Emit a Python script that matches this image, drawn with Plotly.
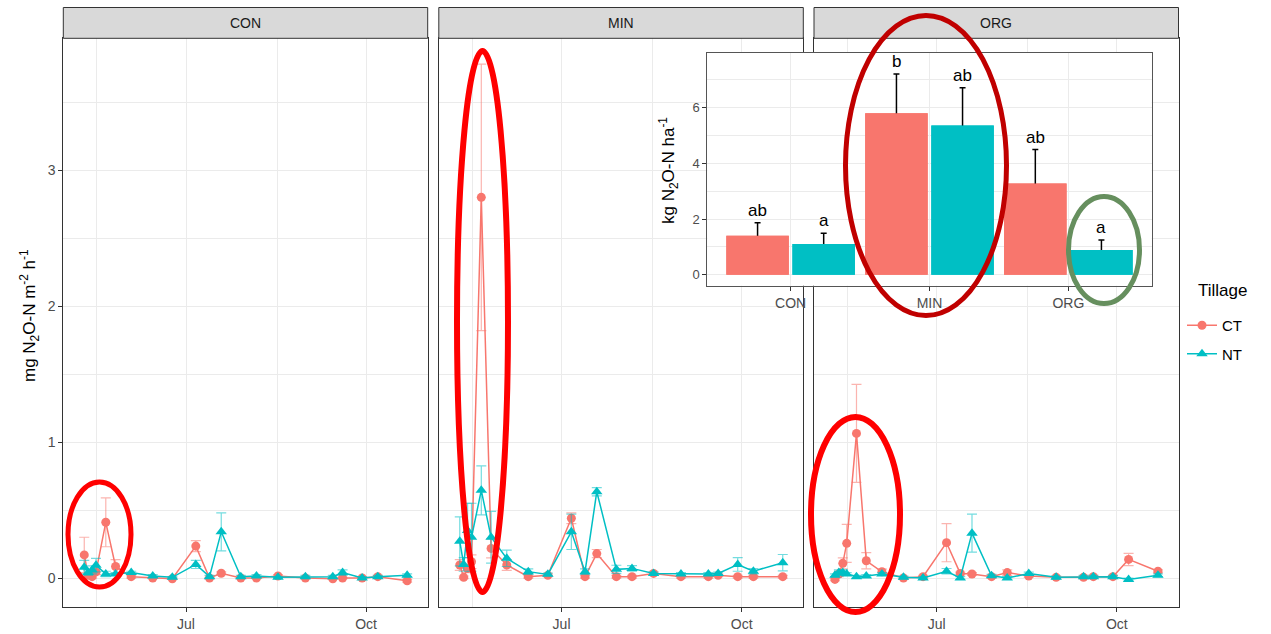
import plotly.graph_objects as go

W, H = 1271, 634
FONT = "Liberation Sans"

# ---- sampling dates and flux series (mg N2O-N m-2 h-1) ----
dates = ["2019-05-10", "2019-05-12", "2019-05-14", "2019-05-16", "2019-05-21", "2019-05-26",
         "2019-06-03", "2019-06-14", "2019-06-24", "2019-07-06", "2019-07-13", "2019-07-19",
         "2019-07-29", "2019-08-06", "2019-08-17", "2019-08-31", "2019-09-14", "2019-09-19",
         "2019-09-29", "2019-10-07", "2019-10-22"]

fertilizers = ["CON", "MIN", "ORG"]
tillage = ["CT", "NT"]

con_ct = [0.17, 0.02, 0.01, 0.045, 0.41, 0.085, 0.01, 0.0, -0.005, 0.235, 0.0, 0.035,
          0.0, 0.0, 0.015, 0.0, -0.005, 0.0, 0.0, 0.01, -0.02]
con_ct_se = [0.13, 0.01, 0.01, 0.02, 0.18, 0.05, 0.01, 0.005, 0.005, 0.04, 0.005, 0.01,
             0.005, 0.005, 0.01, 0.005, 0.005, 0.005, 0.005, 0.01, 0.01]
con_nt = [0.08, 0.04, 0.06, 0.095, 0.03, 0.03, 0.04, 0.015, 0.005, 0.1, 0.01, 0.34,
          0.01, 0.015, 0.005, 0.01, 0.01, 0.04, 0.0, 0.01, 0.02]
con_nt_se = [0.05, 0.02, 0.03, 0.05, 0.02, 0.01, 0.01, 0.01, 0.005, 0.03, 0.01, 0.14,
             0.01, 0.01, 0.005, 0.01, 0.01, 0.02, 0.01, 0.01, 0.01]

min_ct = [0.096, 0.005, 0.07, 0.12, 2.80, 0.218, 0.096, 0.01, 0.02, 0.44, 0.01, 0.18,
          0.01, 0.01, 0.034, 0.01, 0.01, 0.02, 0.01, 0.01, 0.01]
min_ct_se = [0.04, 0.01, 0.03, 0.05, 0.98, 0.07, 0.04, 0.01, 0.01, 0.04, 0.01, 0.03,
             0.01, 0.01, 0.01, 0.01, 0.01, 0.01, 0.01, 0.01, 0.01]
min_nt = [0.27, 0.10, 0.35, 0.30, 0.645, 0.30, 0.145, 0.047, 0.027, 0.34, 0.047, 0.635,
          0.064, 0.071, 0.034, 0.03, 0.03, 0.034, 0.10, 0.05, 0.113]
min_nt_se = [0.18, 0.05, 0.20, 0.25, 0.18, 0.19, 0.06, 0.02, 0.01, 0.13, 0.02, 0.03,
             0.03, 0.02, 0.01, 0.01, 0.01, 0.01, 0.05, 0.02, 0.06]

org_ct = [-0.01, 0.03, 0.108, 0.255, 1.064, 0.127, 0.046, 0.0, 0.01, 0.26, 0.034, 0.03,
          0.01, 0.04, 0.015, 0.005, 0.005, 0.01, 0.01, 0.137, 0.05]
org_ct_se = [0.01, 0.02, 0.04, 0.14, 0.36, 0.06, 0.02, 0.01, 0.01, 0.14, 0.01, 0.01,
             0.01, 0.02, 0.01, 0.01, 0.01, 0.01, 0.01, 0.045, 0.01]
org_nt = [0.02, 0.04, 0.04, 0.03, 0.01, 0.015, 0.03, 0.005, 0.0, 0.05, 0.0, 0.33,
          0.017, 0.0, 0.034, 0.005, 0.01, 0.01, 0.01, -0.01, 0.02]
org_nt_se = [0.01, 0.02, 0.02, 0.01, 0.01, 0.01, 0.01, 0.01, 0.01, 0.02, 0.01, 0.14,
             0.01, 0.01, 0.01, 0.01, 0.01, 0.01, 0.01, 0.01, 0.01]

# ---- cumulative emissions (kg N2O-N ha-1) ----
total_ct = [1.4, 5.8, 3.28]
total_ct_err = [0.47, 1.41, 1.22]
total_nt = [1.1, 5.36, 0.89]
total_nt_err = [0.39, 1.36, 0.36]
letters_ct = ["ab", "b", "ab"]
letters_nt = ["a", "ab", "a"]

COL = {"CT": "#F8766D", "NT": "#00BFC4"}
ERRCOL = {"CT": "rgba(248,118,109,0.55)", "NT": "rgba(0,191,196,0.55)"}
SYMBOL = {"CT": "circle", "NT": "triangle-up"}

series = {
    "CON": {"CT": (con_ct, con_ct_se), "NT": (con_nt, con_nt_se)},
    "MIN": {"CT": (min_ct, min_ct_se), "NT": (min_nt, min_nt_se)},
    "ORG": {"CT": (org_ct, org_ct_se), "NT": (org_nt, org_nt_se)},
}


def px(x):
    return x / W


def py(y):
    return 1 - y / H


# panel geometry (pixels)
panel_x = [(63.3, 427.7), (438.8, 803.3), (814.0, 1178.5)]
panel_top, panel_bottom = 38.3, 607.0
strip_top = 7.5

fig = go.Figure()

for i, fert in enumerate(fertilizers):
    sfx = "" if i == 0 else str(i + 1)
    for till in tillage:
        vals, se = series[fert][till]
        fig.add_trace(go.Scatter(
            x=dates, y=vals, mode="lines+markers", name=till,
            legendgroup=till, showlegend=(i == 0),
            line=dict(color=COL[till], width=1.5),
            marker=dict(color=COL[till], size=9 if till == "CT" else 10, symbol=SYMBOL[till]),
            error_y=dict(type="data", array=se, color=ERRCOL[till], thickness=1.2, width=5),
            xaxis="x" + sfx, yaxis="y" + sfx,
        ))

# inset bar chart: bars carrying the error bars, then the same bars again on top
# so that only the upper whisker stays visible
for till, vals, err in [("CT", total_ct, total_ct_err), ("NT", total_nt, total_nt_err)]:
    fig.add_trace(go.Bar(
        x=fertilizers, y=vals, name=till, showlegend=False, offsetgroup=till,
        marker=dict(color=COL[till], line=dict(width=0)),
        error_y=dict(type="data", array=err, color="black", thickness=1.5, width=3),
        xaxis="x4", yaxis="y4",
    ))
for till, vals in [("CT", total_ct), ("NT", total_nt)]:
    fig.add_trace(go.Bar(
        x=fertilizers, y=vals, name=till, showlegend=False, offsetgroup=till,
        marker=dict(color=COL[till], line=dict(width=0)),
        xaxis="x4", yaxis="y4", hoverinfo="skip",
    ))
for vals, err, letters, shift in [(total_ct, total_ct_err, letters_ct, -33),
                                  (total_nt, total_nt_err, letters_nt, 33)]:
    for f, v, e, t in zip(fertilizers, vals, err, letters):
        fig.add_annotation(x=f, y=v + e, xref="x4", yref="y4", text=t, showarrow=False,
                           xanchor="center", yanchor="bottom", xshift=shift, yshift=1,
                           font=dict(family=FONT, size=17, color="black"))

grid = "#EBEBEB"
tickfont = dict(family=FONT, size=14, color="#4D4D4D")
layout = dict(
    width=W, height=H,
    margin=dict(l=0, r=0, t=0, b=0),
    paper_bgcolor="white", plot_bgcolor="white",
    font=dict(family=FONT, color="black"),
    barmode="group", bargap=0.048, bargroupgap=0.055,
    legend=dict(
        x=px(1182), y=py(309), xanchor="left", yanchor="top",
        font=dict(family=FONT, size=15, color="black"),
        bgcolor="rgba(0,0,0,0)", itemwidth=30, tracegroupgap=6,
    ),
    showlegend=True,
)

for i in range(3):
    sfx = "" if i == 0 else str(i + 1)
    x0, x1 = panel_x[i]
    layout["xaxis" + sfx] = dict(
        domain=[px(x0), px(x1)], anchor="y" + sfx, type="date",
        range=["2019-04-29 07:00", "2019-11-01 12:00"],
        tickmode="array", tickvals=["2019-07-01", "2019-10-01"], ticktext=["Jul", "Oct"],
        ticks="outside", ticklen=4, tickcolor="#333333", tickfont=tickfont,
        showgrid=True, gridcolor=grid, gridwidth=1,
        minor=dict(showgrid=True, gridcolor=grid, gridwidth=0.6,
                   tickmode="array", tickvals=["2019-05-16 12:00", "2019-08-16 12:00"]),
        showline=True, mirror=True, linecolor="#333333", linewidth=1,
        zeroline=False, fixedrange=True,
    )
    layout["yaxis" + sfx] = dict(
        domain=[py(panel_bottom), py(panel_top)], anchor="x" + sfx,
        range=[-0.213, 3.97],
        tickmode="array", tickvals=[0, 1, 2, 3],
        showticklabels=(i == 0),
        ticks="outside" if i == 0 else "", ticklen=4, tickcolor="#333333", tickfont=tickfont,
        showgrid=True, gridcolor=grid, gridwidth=1,
        minor=dict(showgrid=True, gridcolor=grid, gridwidth=0.6,
                   tickmode="array", tickvals=[0.5, 1.5, 2.5, 3.5]),
        showline=True, mirror=True, linecolor="#333333", linewidth=1,
        zeroline=False, fixedrange=True,
    )

# inset axes
ix0, ix1, iy0, iy1 = 707.3, 1151.7, 52.7, 285.7
layout["xaxis4"] = dict(
    domain=[px(ix0), px(ix1)], anchor="y4", type="category",
    range=[-0.6, 2.6], ticks="outside", ticklen=4, tickcolor="#333333",
    tickfont=dict(family=FONT, size=14, color="#4D4D4D"),
    showgrid=True, gridcolor=grid, gridwidth=1,
    showline=True, mirror=True, linecolor="#555555", linewidth=1,
    zeroline=False, fixedrange=True,
)
layout["yaxis4"] = dict(
    domain=[py(iy1), py(iy0)], anchor="x4",
    range=[-0.395, 7.98], tickmode="array", tickvals=[0, 2, 4, 6],
    ticks="outside", ticklen=4, tickcolor="#333333",
    tickfont=dict(family=FONT, size=13, color="#4D4D4D"),
    showgrid=True, gridcolor=grid, gridwidth=1,
    minor=dict(showgrid=True, gridcolor=grid, gridwidth=0.6,
               tickmode="array", tickvals=[1, 3, 5, 7]),
    showline=True, mirror=True, linecolor="#555555", linewidth=1,
    zeroline=False, fixedrange=True,
)
fig.update_layout(**layout)

shapes = []
# white backing behind the inset (drawn in the inset subplot's lower layer)
iw, ih = ix1 - ix0, iy1 - iy0
shapes.append(dict(
    type="rect", xref="x4 domain", yref="y4 domain", layer="below",
    x0=(643 - ix0) / iw, x1=(1160 - ix0) / iw,
    y0=(iy1 - 319) / ih, y1=(iy1 - 43) / ih,
    fillcolor="white", line=dict(width=0),
))
# facet strips
for i, fert in enumerate(fertilizers):
    x0, x1 = panel_x[i]
    shapes.append(dict(
        type="rect", xref="paper", yref="paper", layer="above",
        x0=px(x0), x1=px(x1), y0=py(panel_top), y1=py(strip_top),
        fillcolor="#D9D9D9", line=dict(color="#333333", width=1),
    ))
    fig.add_annotation(x=px((x0 + x1) / 2), y=py((strip_top + panel_top) / 2),
                       xref="paper", yref="paper", text=fert, showarrow=False,
                       xanchor="center", yanchor="middle",
                       font=dict(family=FONT, size=14, color="#1A1A1A"))

# highlight ellipses
for (x0, y0, x1, y1, col, lw) in [
    (68, 482, 131, 587, "#FF0000", 5),
    (457, 51, 508, 592, "#FF0000", 6),
    (811, 417, 900, 612, "#FF0000", 6),
    (845.5, 15.5, 1006.5, 315.5, "#C00000", 5),
    (1068.5, 196.5, 1139.5, 303.5, "#668F5E", 5),
]:
    shapes.append(dict(
        type="circle", xref="paper", yref="paper", layer="above",
        x0=px(x0), x1=px(x1), y0=py(y1), y1=py(y0),
        line=dict(color=col, width=lw), fillcolor="rgba(0,0,0,0)",
    ))
fig.update_layout(shapes=shapes)

# axis titles and legend heading
fig.add_annotation(x=px(29), y=py(316), xref="paper", yref="paper",
                   text="mg N<sub>2</sub>O-N m<sup>-2</sup> h<sup>-1</sup>",
                   textangle=-90, showarrow=False, xanchor="center", yanchor="middle",
                   font=dict(family=FONT, size=17, color="black"))
fig.add_annotation(x=px(668), y=py(170), xref="paper", yref="paper",
                   text="kg N<sub>2</sub>O-N ha<sup>-1</sup>",
                   textangle=-90, showarrow=False, xanchor="center", yanchor="middle",
                   font=dict(family=FONT, size=17, color="black"))
fig.add_annotation(x=px(1196), y=py(290), xref="paper", yref="paper",
                   text="Tillage", showarrow=False, xanchor="left", yanchor="middle",
                   font=dict(family=FONT, size=17, color="black"))

fig.write_html("out.html")
